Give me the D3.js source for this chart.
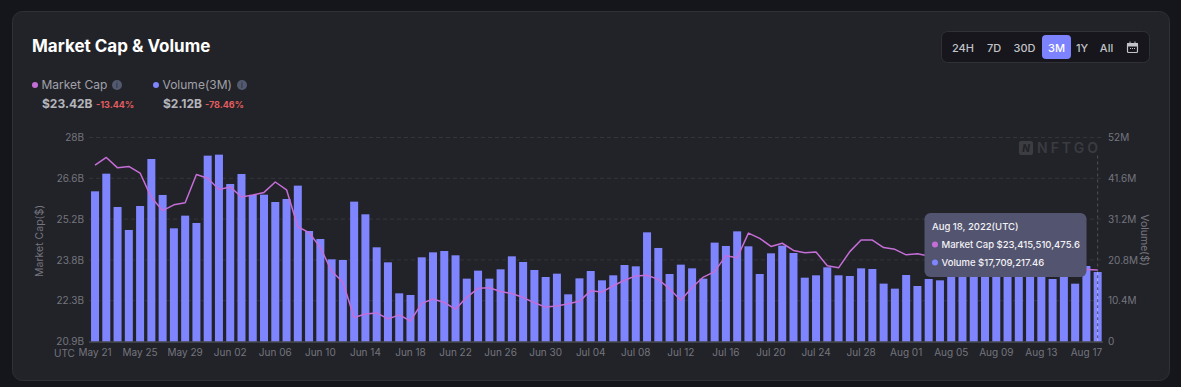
<!DOCTYPE html>
<html>
<head>
<meta charset="utf-8">
<script src="https://d3js.org/d3.v7.min.js"></script>
<style>
    html, body { margin: 0; padding: 0; background: #15151c; }
    svg { display: block; }
    text { font-family: Inter, "Noto Sans", sans-serif; }
    .axis path, .axis line { display: none; }
    .axis text { font-size: 10px; fill: #74757f; font-family: Inter, sans-serif; }
    .grid line { stroke: #34353b; stroke-dasharray: 4 3; }
</style>
</head>
<body>
<svg id="chart" width="1181" height="387"></svg>
<script>
// days on the x axis, one bar each
const dates = d3.utcDay.range(new Date(Date.UTC(2022, 4, 21)), new Date(Date.UTC(2022, 7, 19))).map(d3.utcFormat("%b %d"));
const xTickLabels = ["May 21", "May 25", "May 29", "Jun 02", "Jun 06", "Jun 10", "Jun 14", "Jun 18", "Jun 22", "Jun 26", "Jun 30", "Jul 04", "Jul 08", "Jul 12", "Jul 16", "Jul 20", "Jul 24", "Jul 28", "Aug 01", "Aug 05", "Aug 09", "Aug 13", "Aug 17"];

// volume in millions of dollars (the ones behind the tooltip are guesses)
const volume = [38.28, 42.78, 34.29, 28.43, 34.54, 46.52, 37.35, 28.85, 32.08, 30.21,
    47.37, 47.63, 40.15, 42.70, 37.35, 37.43, 35.56, 36.33, 39.73, 28.17,
    26.13, 20.95, 20.78, 35.65, 32.42, 24.01, 20.18, 12.28, 11.86, 21.46,
    22.73, 23.07, 21.97, 16.02, 18.06, 16.02, 18.40, 21.71, 20.27, 18.23,
    16.44, 17.29, 12.03, 16.10, 17.97, 15.59, 16.87, 19.50, 19.16, 27.83,
    23.84, 17.21, 19.59, 18.65, 16.02, 25.20, 24.35, 28.08, 24.26, 17.21,
    22.48, 24.43, 22.56, 16.27, 16.87, 18.91, 16.87, 16.70, 18.65, 18.48,
    14.75, 13.47, 16.95, 14.15, 15.93, 15.59, 17.5, 18.5, 18.0, 17.0,
    19.0, 17.5, 18.0, 17.0, 18.0, 15.93, 17.5, 14.74, 19.25, 17.71];

// market cap in billions of dollars
const marketCap = [27.04, 27.31, 26.95, 27.00, 26.77, 25.92, 25.47, 25.67, 25.74, 26.72,
    26.59, 26.20, 26.29, 25.94, 26.01, 26.10, 26.46, 26.19, 24.91, 24.71,
    24.19, 23.38, 22.99, 21.77, 21.89, 21.93, 21.72, 21.86, 21.65, 22.26,
    22.41, 22.29, 22.06, 22.47, 22.78, 22.80, 22.67, 22.60, 22.46, 22.28,
    22.13, 22.17, 22.25, 22.33, 22.70, 22.65, 22.87, 23.06, 23.21, 23.23,
    23.09, 22.76, 22.37, 22.81, 23.17, 23.36, 23.91, 23.84, 24.69, 24.51,
    24.23, 24.34, 24.09, 24.01, 24.04, 23.56, 23.49, 24.05, 24.45, 24.45,
    24.19, 24.13, 23.94, 23.98, 23.90, 23.85, 23.80, 23.70, 23.75, 23.80,
    23.70, 23.60, 23.65, 23.60, 23.55, 23.50, 23.45, 23.45, 23.43, 23.416];

const leftTicks = [20.94, 22.35, 23.76, 25.18, 26.59, 28];
const leftLabels = ["20.9B", "22.3B", "23.8B", "25.2B", "26.6B", "28B"];
const rightTicks = [0, 10.4, 20.8, 31.2, 41.6, 52];
const rightLabels = ["0", "10.4M", "20.8M", "31.2M", "41.6M", "52M"];

const ranges = ["24H", "7D", "30D", "3M", "1Y", "All"];
const rangeCenters = [963, 994, 1024.5, 1056.5, 1082, 1106.5];

const svg = d3.select("#chart");

// card
svg.append("rect").attr("x", 12.5).attr("y", 11.5).attr("width", 1157).attr("height", 369)
    .attr("rx", 10).attr("fill", "#222328").attr("stroke", "#303137");

// scales
const plotTop = 137.5, plotBottom = 341.5;
const x = d3.scaleBand().domain(dates).range([89.4, 1103.3]).paddingInner(0.29).paddingOuter(0.145);
const yCap = d3.scaleLinear().domain([20.94, 28]).range([plotBottom, plotTop]);
const yVol = d3.scaleLinear().domain([0, 52]).range([plotBottom, plotTop]);
const mid = i => x(dates[i]) + x.bandwidth() / 2;

// grid
svg.append("g").attr("class", "grid")
    .selectAll("line").data(rightTicks.slice(1)).join("line")
    .attr("x1", 89).attr("x2", 1103)
    .attr("y1", d => yVol(d)).attr("y2", d => yVol(d));

// watermark
svg.append("rect").attr("x", 1019).attr("y", 141).attr("width", 14).attr("height", 14).attr("rx", 2).attr("fill", "#3c3d42");
svg.append("text").attr("x", 1026).attr("y", 152).attr("text-anchor", "middle")
    .attr("font-size", 10).attr("font-weight", 800).attr("font-style", "italic").attr("fill", "#222328").text("N");
svg.append("text").attr("x", 1037).attr("y", 153).attr("font-size", 14).attr("font-weight", 600)
    .attr("letter-spacing", 3).attr("fill", "#3a3b41").text("NFTGO");

// bars
svg.append("g").selectAll("rect").data(volume).join("rect")
    .attr("x", (d, i) => x(dates[i]))
    .attr("y", d => yVol(d))
    .attr("width", x.bandwidth())
    .attr("height", d => plotBottom - yVol(d))
    .attr("fill", "#7f85ff");

// baseline
svg.append("line").attr("x1", 89).attr("x2", 1103).attr("y1", plotBottom + 0.5).attr("y2", plotBottom + 0.5).attr("stroke", "#5a5b63");

// hover guide on the last day
svg.append("line").attr("x1", mid(89)).attr("x2", mid(89)).attr("y1", plotTop + 18).attr("y2", plotBottom)
    .attr("stroke", "#4f5058").attr("stroke-dasharray", "3 3");
svg.append("line").attr("x1", mid(89)).attr("x2", mid(89)).attr("y1", yVol(volume[89])).attr("y2", plotBottom)
    .attr("stroke", "#a9adf5").attr("stroke-dasharray", "3 3");

// market cap line
const line = d3.line().x((d, i) => mid(i)).y(d => yCap(d));
svg.append("path").datum(marketCap).attr("fill", "none").attr("stroke", "#c56ed8").attr("stroke-width", 1.5)
    .attr("stroke-linejoin", "round").attr("d", line);

// axes
svg.append("g").attr("class", "axis").attr("transform", "translate(89,0)")
    .call(d3.axisLeft(yCap).tickValues(leftTicks).tickSize(0).tickPadding(5).tickFormat((d, i) => leftLabels[i]));
svg.append("g").attr("class", "axis").attr("transform", "translate(1103,0)")
    .call(d3.axisRight(yVol).tickValues(rightTicks).tickSize(0).tickPadding(5).tickFormat((d, i) => rightLabels[i]));
svg.append("g").attr("class", "axis").attr("transform", `translate(0,${plotBottom})`)
    .call(d3.axisBottom(x).tickValues(xTickLabels).tickSize(0).tickPadding(7));
svg.append("text").attr("x", 54).attr("y", 356.5).attr("font-size", 10).attr("fill", "#74757f").text("UTC");

// axis titles
svg.append("text").attr("transform", "translate(43,241) rotate(-90)").attr("text-anchor", "middle")
    .attr("font-size", 10.5).attr("fill", "#74757f").text("Market Cap($)");
svg.append("text").attr("transform", "translate(1141,240) rotate(90)").attr("text-anchor", "middle")
    .attr("font-size", 10.5).attr("fill", "#74757f").text("Volume($)");

// header
svg.append("text").attr("x", 32).attr("y", 52).attr("font-size", 17).attr("font-weight", 700).attr("fill", "#ffffff").text("Market Cap & Volume");

function legend(dotX, color, label, infoX, value, pct, pctX) {
    svg.append("circle").attr("cx", dotX).attr("cy", 85).attr("r", 3).attr("fill", color);
    svg.append("text").attr("x", dotX + 6.5).attr("y", 89).attr("font-size", 12).attr("fill", "#a0a1a9").text(label);
    svg.append("circle").attr("cx", infoX).attr("cy", 85).attr("r", 5).attr("fill", "#535a70");
    svg.append("text").attr("x", infoX).attr("y", 88).attr("text-anchor", "middle").attr("font-size", 7.5).attr("fill", "#22232a").text("i");
    svg.append("text").attr("x", dotX + 7).attr("y", 108).attr("font-size", 12).attr("font-weight", 700).attr("fill", "#b4b5bb").text(value);
    svg.append("text").attr("x", pctX).attr("y", 108).attr("font-size", 9).attr("font-weight", 700).attr("fill", "#e35d60").text(pct);
}
legend(35, "#c56ed8", "Market Cap", 117, "$23.42B", "-13.44%", 96);
legend(156, "#7f85ff", "Volume(3M)", 242, "$2.12B", "-78.46%", 205);

// range buttons
svg.append("rect").attr("x", 941.5).attr("y", 31.5).attr("width", 208).attr("height", 31).attr("rx", 6)
    .attr("fill", "#16161c").attr("stroke", "#303137");
svg.append("rect").attr("x", 1042).attr("y", 35).attr("width", 29).attr("height", 24).attr("rx", 4).attr("fill", "#7d83ff");
svg.append("g").selectAll("text").data(ranges).join("text")
    .attr("x", (d, i) => rangeCenters[i]).attr("y", 51.5).attr("text-anchor", "middle")
    .attr("font-size", 11).attr("font-weight", 500)
    .attr("fill", d => d === "3M" ? "#ffffff" : "#c2c3c8").text(d => d);

// calendar icon
const cal = svg.append("g").attr("fill", "none").attr("stroke", "#c2c3c8");
cal.append("rect").attr("x", 1127.5).attr("y", 43.5).attr("width", 10).attr("height", 9).attr("rx", 1).attr("stroke-width", 1.2);
cal.append("rect").attr("x", 1127.5).attr("y", 43.5).attr("width", 10).attr("height", 2.5).attr("fill", "#c2c3c8");
cal.append("path").attr("d", "M1130 41.5v2M1135 41.5v2").attr("stroke-width", 1);
cal.append("path").attr("d", "M1130 48.5h1M1132 48.5h1M1134 48.5h1").attr("stroke-width", 1);

// tooltip
svg.append("rect").attr("x", 924.5).attr("y", 213).attr("width", 162).attr("height", 64).attr("rx", 6).attr("fill", "#535470");
svg.append("text").attr("x", 932).attr("y", 230).attr("font-size", 9.5).attr("font-weight", 500).attr("fill", "#f2f2f5").text("Aug 18, 2022(UTC)");
svg.append("circle").attr("cx", 935).attr("cy", 244.5).attr("r", 3).attr("fill", "#c56ed8");
svg.append("text").attr("x", 941.5).attr("y", 248).attr("font-size", 9.5).attr("font-weight", 500).attr("fill", "#f2f2f5").text("Market Cap $23,415,510,475.6");
svg.append("circle").attr("cx", 935).attr("cy", 262.5).attr("r", 3).attr("fill", "#7f85ff");
svg.append("text").attr("x", 941.5).attr("y", 266).attr("font-size", 9.5).attr("font-weight", 500).attr("fill", "#f2f2f5").text("Volume $17,709,217.46");
</script>
</body>
</html>
